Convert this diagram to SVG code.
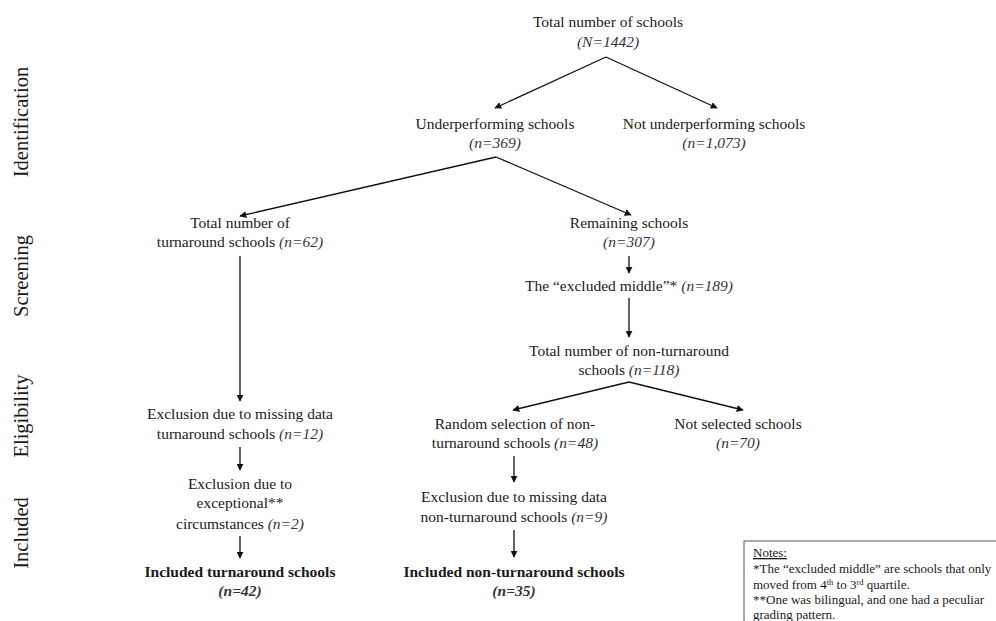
<svg xmlns="http://www.w3.org/2000/svg" width="996" height="621" viewBox="0 0 996 621">
<defs>
<marker id="ah" viewBox="0 0 10 10" refX="9" refY="5" markerWidth="7" markerHeight="7" markerUnits="userSpaceOnUse" orient="auto">
<path d="M0,0 L10,5 L0,10 z" fill="#111"/>
</marker>
<style>
text{font-family:"Liberation Serif","Times New Roman",serif;fill:#1a1a1a;}
.t{font-size:15.5px;text-anchor:middle;}
.b{font-weight:bold;}
.i{font-style:italic;fill:#333340;}
.side{font-size:20.5px;text-anchor:middle;}
.note{font-size:13px;}
.c line,.c polyline{stroke:#111;stroke-width:1.3;fill:none;}
.a{marker-end:url(#ah);}
</style>
</defs>
<rect width="996" height="621" fill="#fff"/>

<g id="stages">
<text class="side" transform="translate(28,122) rotate(-90)">Identification</text>
<text class="side" transform="translate(28,276) rotate(-90)">Screening</text>
<text class="side" transform="translate(28,416) rotate(-90)">Eligibility</text>
<text class="side" transform="translate(28,533) rotate(-90)">Included</text>
</g>

<g class="c" id="connectors">
<line class="a" x1="606" y1="57" x2="495" y2="108"/>
<line class="a" x1="606" y1="57" x2="717" y2="108"/>
<line class="a" x1="496" y1="157" x2="240" y2="216"/>
<line class="a" x1="496" y1="157" x2="631" y2="215"/>
<line class="a" x1="629" y1="256" x2="629" y2="273"/>
<line class="a" x1="629" y1="298" x2="629" y2="337"/>
<line class="a" x1="629" y1="382" x2="513" y2="410"/>
<line class="a" x1="629" y1="382" x2="743" y2="410"/>
<line class="a" x1="514" y1="456" x2="514" y2="482"/>
<line class="a" x1="514" y1="530" x2="514" y2="557"/>
<line class="a" x1="240" y1="256" x2="240" y2="401"/>
<line class="a" x1="240" y1="447" x2="240" y2="470"/>
<line class="a" x1="240" y1="536" x2="240" y2="558"/>
</g>

<g id="n-total">
<text class="t" x="608" y="27">Total number of schools</text>
<text class="t i" x="608" y="47">(N=1442)</text>
</g>
<g id="n-under">
<text class="t" x="495" y="129">Underperforming schools</text>
<text class="t i" x="495" y="148">(n=369)</text>
</g>
<g id="n-notunder">
<text class="t" x="714" y="129">Not underperforming schools</text>
<text class="t i" x="714" y="148">(n=1,073)</text>
</g>
<g id="n-turn">
<text class="t" x="240" y="228">Total number of</text>
<text class="t" x="240" y="247">turnaround schools <tspan class="i">(n=62)</tspan></text>
</g>
<g id="n-remain">
<text class="t" x="629" y="228">Remaining schools</text>
<text class="t i" x="629" y="247">(n=307)</text>
</g>
<g id="n-excl">
<text class="t" x="629" y="291">The “excluded middle”* <tspan class="i">(n=189)</tspan></text>
</g>
<g id="n-nonturn">
<text class="t" x="629" y="356">Total number of non-turnaround</text>
<text class="t" x="629" y="375">schools <tspan class="i">(n=118)</tspan></text>
</g>
<g id="n-random">
<text class="t" x="515" y="429">Random selection of non-</text>
<text class="t" x="515" y="448">turnaround schools <tspan class="i">(n=48)</tspan></text>
</g>
<g id="n-notsel">
<text class="t" x="738" y="429">Not selected schools</text>
<text class="t i" x="738" y="448">(n=70)</text>
</g>
<g id="n-missnon">
<text class="t" x="514" y="502">Exclusion due to missing data</text>
<text class="t" x="514" y="522">non-turnaround schools <tspan class="i">(n=9)</tspan></text>
</g>
<g id="n-inclnon">
<text class="t b" x="514" y="577">Included non-turnaround schools</text>
<text class="t b i" x="514" y="596">(n=35)</text>
</g>
<g id="n-missturn">
<text class="t" x="240" y="419">Exclusion due to missing data</text>
<text class="t" x="240" y="439">turnaround schools <tspan class="i">(n=12)</tspan></text>
</g>
<g id="n-exceptional">
<text class="t" x="240" y="489">Exclusion due to</text>
<text class="t" x="240" y="508">exceptional**</text>
<text class="t" x="240" y="529">circumstances <tspan class="i">(n=2)</tspan></text>
</g>
<g id="n-inclturn">
<text class="t b" x="240" y="577">Included turnaround schools</text>
<text class="t b i" x="240" y="596">(n=42)</text>
</g>

<g id="notes">
<rect x="744" y="541" width="260" height="90" fill="#fff" stroke="#555" stroke-width="1"/>
<text class="note" x="753" y="557" text-decoration="underline">Notes:</text>
<text class="note" x="753" y="573">*The “excluded middle” are schools that only</text>
<text class="note" x="753" y="589">moved from 4<tspan font-size="8.5" dy="-4">th</tspan><tspan dy="4"> to 3</tspan><tspan font-size="8.5" dy="-4">rd</tspan><tspan dy="4"> quartile.</tspan></text>
<text class="note" x="753" y="604">**One was bilingual, and one had a peculiar</text>
<text class="note" x="753" y="619">grading pattern.</text>
</g>
</svg>
